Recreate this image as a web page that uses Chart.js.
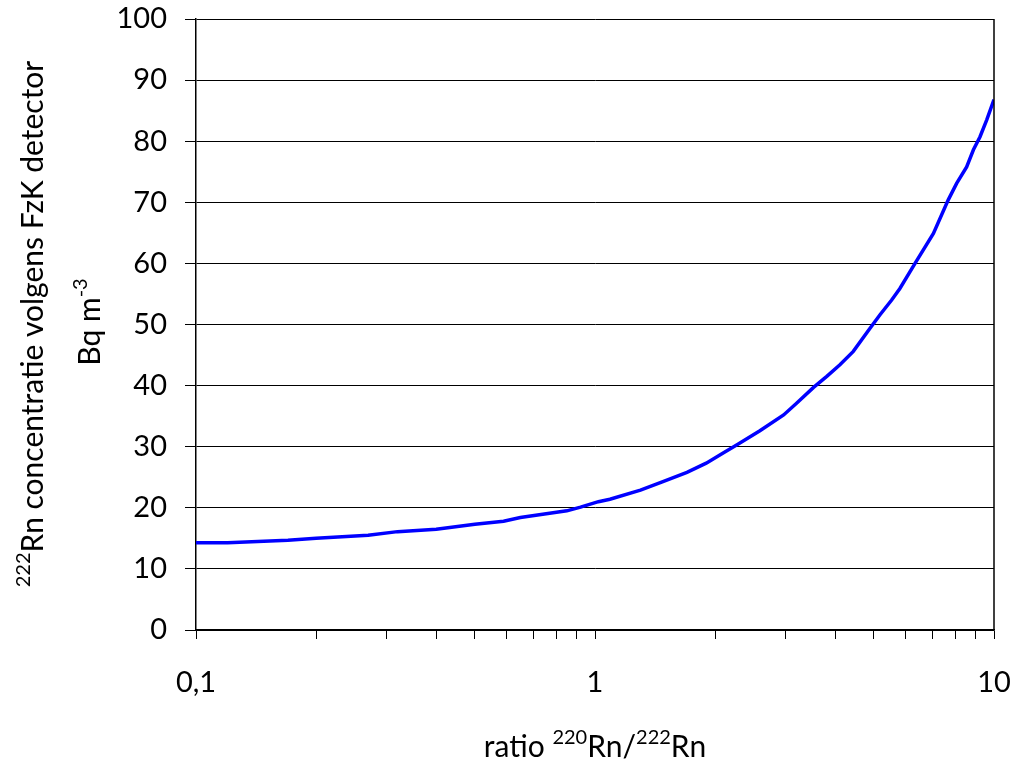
<!DOCTYPE html>
<html>
<head>
<meta charset="utf-8">
<script src="https://cdn.jsdelivr.net/npm/chart.js@4/dist/chart.umd.min.js"></script>
<style>
  html, body { margin: 0; padding: 0; background: #fff; }
  #wrap { width: 1013px; height: 765px; }
</style>
</head>
<body>
<div id="wrap"><canvas id="chart" width="1013" height="765"></canvas></div>
<script>
// ratio 220Rn/222Rn against 222Rn concentration (FzK detector)

const ratio = [0.1, 0.12, 0.17, 0.2, 0.27, 0.32, 0.4, 0.5, 0.59, 0.65, 0.85, 0.92,
  1.02, 1.09, 1.3, 1.48, 1.7, 1.9, 2.1, 2.27, 2.59, 2.97, 3.2, 3.53, 3.81, 4.11,
  4.44, 4.89, 5.18, 5.54, 5.81, 6.34, 7.05, 7.68, 8.06, 8.54, 8.88, 9.22, 9.59, 10];
const concentration = [14.3, 14.3, 14.7, 15.0, 15.5, 16.1, 16.5, 17.3, 17.8, 18.4, 19.5, 20.1,
  21.0, 21.4, 22.9, 24.3, 25.8, 27.3, 29.0, 30.3, 32.6, 35.2, 37.1, 39.7, 41.5, 43.4,
  45.6, 49.4, 51.6, 54.0, 55.9, 60.0, 64.9, 70.4, 73.1, 75.8, 78.6, 80.7, 83.5, 86.8];

const xTickLabels = { 0.1: '0,1', 1: '1', 10: '10' };
const xTickValues = [0.1, 0.2, 0.3, 0.4, 0.5, 0.6, 0.7, 0.8, 0.9, 1, 2, 3, 4, 5, 6, 7, 8, 9, 10];

// axis titles, pieces marked sup are drawn as superscript
const xTitle = [{ t: 'ratio ' }, { t: '220', sup: true }, { t: 'Rn/' }, { t: '222', sup: true }, { t: 'Rn' }];
const yTitle1 = [{ t: '222', sup: true }, { t: 'Rn concentratie volgens FzK detector' }];
const yTitle2 = [{ t: 'Bq m' }, { t: '-3', sup: true }];

const TXT_FONT = 'Lato, "Open Sans", sans-serif';

function drawRich(ctx, parts, cx, cy){
  const big = '30px ' + TXT_FONT, small = '20px ' + TXT_FONT;
  let w = 0;
  parts.forEach(p => { ctx.font = p.sup ? small : big; w += ctx.measureText(p.t).width; });
  let x = cx - w/2;
  ctx.textBaseline = 'alphabetic';
  ctx.textAlign = 'left';
  parts.forEach(p => {
    ctx.font = p.sup ? small : big;
    ctx.fillText(p.t, x, p.sup ? cy - 13 : cy);
    x += ctx.measureText(p.t).width;
  });
}

const titlesPlugin = {
  id: 'titles',
  afterDraw(chart){
    const ctx = chart.ctx, a = chart.chartArea;
    ctx.save();
    ctx.strokeStyle = '#000';
    ctx.lineWidth = 1.5;
    ctx.beginPath();
    ctx.moveTo(a.right, a.top); ctx.lineTo(a.right, a.bottom);
    ctx.stroke();
    ctx.fillStyle = '#000';
    drawRich(ctx, xTitle, (a.left + a.right)/2, 757);
    ctx.save(); ctx.translate(43, 324); ctx.rotate(-Math.PI/2); drawRich(ctx, yTitle1, 0, 0); ctx.restore();
    ctx.save(); ctx.translate(100, 322); ctx.rotate(-Math.PI/2); drawRich(ctx, yTitle2, 0, 0); ctx.restore();
    ctx.restore();
  }
};

new Chart(document.getElementById('chart').getContext('2d'), {
  type: 'line',
  data: {
    datasets: [{
      data: ratio.map((r, i) => ({ x: r, y: concentration[i] })),
      borderColor: '#0000ff',
      borderWidth: 3.5,
      pointRadius: 0,
      tension: 0,
      fill: false
    }]
  },
  options: {
    responsive: false,
    animation: false,
    layout: { padding: { left: 0, top: 19, right: 19, bottom: 0 } },
    plugins: { legend: { display: false }, tooltip: { enabled: false } },
    scales: {
      x: {
        type: 'logarithmic',
        min: 0.1, max: 10,
        afterBuildTicks: s => { s.ticks = xTickValues.map(v => ({ value: v })); },
        afterFit: s => { s.height = 135; s.paddingLeft = 0; s.paddingRight = 0; },
        ticks: {
          autoSkip: false, maxRotation: 0, padding: 26,
          color: '#000',
          font: { family: TXT_FONT, size: 29 },
          callback: v => xTickLabels[v] || ''
        },
        grid: { drawOnChartArea: false, color: '#000', tickLength: 9 },
        border: { color: '#000', width: 1.5 }
      },
      y: {
        min: 0, max: 100,
        afterFit: s => { s.width = 196; s.paddingTop = 0; s.paddingBottom = 0; },
        ticks: {
          stepSize: 10, padding: 18, color: '#000',
          font: { family: TXT_FONT, size: 29 }
        },
        grid: { color: '#000', lineWidth: 1, tickLength: 11 },
        border: { color: '#000', width: 1.5 }
      }
    }
  },
  plugins: [titlesPlugin]
});
</script>
</body>
</html>
